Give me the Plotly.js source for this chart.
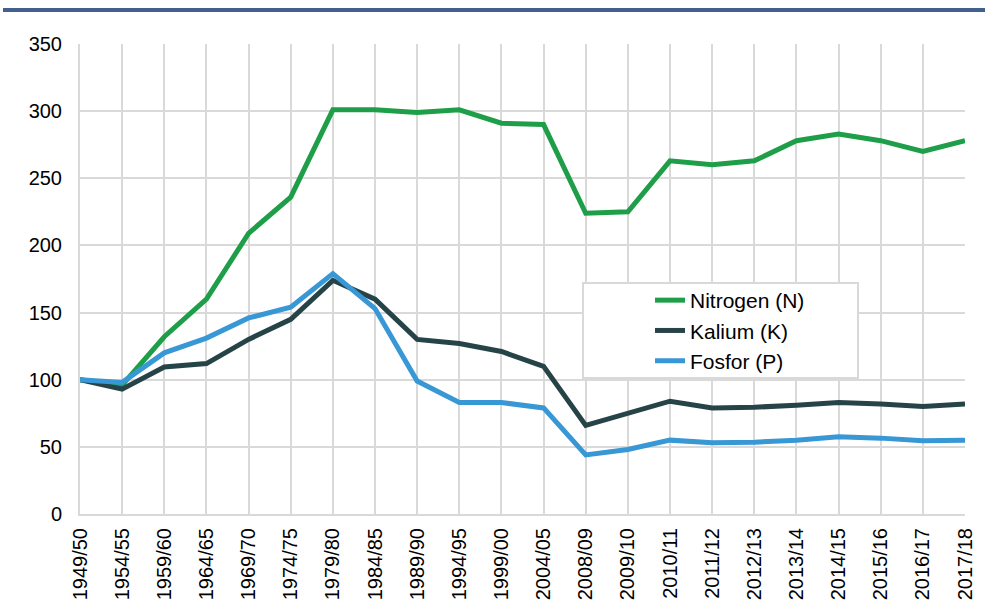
<!DOCTYPE html>
<html>
<head>
<meta charset="utf-8">
<script src="https://cdn.plot.ly/plotly-3.0.1.min.js"></script>
<style>html,body{margin:0;padding:0;background:#fff;}#chart{width:985px;height:614px;}</style>
</head>
<body>
<div id="chart"></div>
<script>
const categories = ["1949/50","1954/55","1959/60","1964/65","1969/70","1974/75","1979/80","1984/85","1989/90","1994/95","1999/00","2004/05","2008/09","2009/10","2010/11","2011/12","2012/13","2013/14","2014/15","2015/16","2016/17","2017/18"];
const nitrogen = [100,96,132,160,209,236,301,301,299,301,291,290,224,225,263,260,263,278,283,278,270,278];
const kalium   = [100,93,109.5,112,130,145,174,160,130,127,121,110,66,75,84,79,79.5,81,83,82,80,82];
const fosfor   = [100,98,120,131,146,154,179,153,99,83,83,79,44,48,55,53,53.5,55,57.5,56.5,54.5,55];
const yTicks = [0,50,100,150,200,250,300,350];

const font = {family: "Liberation Sans, Arial, sans-serif", size: 20, color: "#000"};
const legendFont = {family: "Liberation Sans, Arial, sans-serif", size: 21, color: "#000"};
const traces = [
  {x: categories, y: nitrogen, name: "Nitrogen (N)", line: {color: "#1e9e48", width: 5}},
  {x: categories, y: kalium, name: "Kalium (K)", line: {color: "#264448", width: 5}},
  {x: categories, y: fosfor, name: "Fosfor (P)", line: {color: "#3897d5", width: 5}}
].map((t, i) => Object.assign(t, {type: "scatter", mode: "lines", hoverinfo: "skip"}));

const layout = {
  width: 985, height: 614,
  margin: {l: 80, r: 20, t: 44, b: 100},
  paper_bgcolor: "#fff", plot_bgcolor: "#fff",
  font: font,
  showlegend: true,
  xaxis: {
    type: "category", range: [0, categories.length - 1],
    tickangle: -90, showgrid: true, gridcolor: "#d9d9d9", gridwidth: 2,
    showline: true, linecolor: "#d9d9d9", linewidth: 2,
    ticks: "", ticklabelstandoff: 4, tickfont: font, fixedrange: true
  },
  yaxis: {
    range: [0, 350], tickvals: yTicks, ticktext: yTicks.map(String),
    showgrid: true, gridcolor: "#d9d9d9", gridwidth: 2,
    zeroline: false, showline: true, linecolor: "#d9d9d9", linewidth: 2,
    ticks: "", ticklabelstandoff: 12, tickfont: font, fixedrange: true
  },
  legend: {
    x: (650 - 80) / 885, y: (514 - 280) / 470, xanchor: "left", yanchor: "top",
    bgcolor: "rgba(0,0,0,0)", borderwidth: 0, font: legendFont,
    traceorder: "normal"
  },
  shapes: [
    {type: "rect", xref: "paper", yref: "paper", layer: "above",
     x0: (583 - 80) / 885, x1: (858 - 80) / 885, y0: (514 - 378) / 470, y1: (514 - 283) / 470,
     fillcolor: "#fff", line: {color: "#d9d9d9", width: 2}},
    {type: "line", xref: "paper", yref: "paper",
     x0: (3 - 80) / 885, x1: (985 - 80) / 885, y0: (514 - 10) / 470, y1: (514 - 10) / 470,
     line: {color: "#43608c", width: 4}}
  ]
};
Plotly.newPlot("chart", traces, layout, {displayModeBar: false, staticPlot: true});
</script>
</body>
</html>
